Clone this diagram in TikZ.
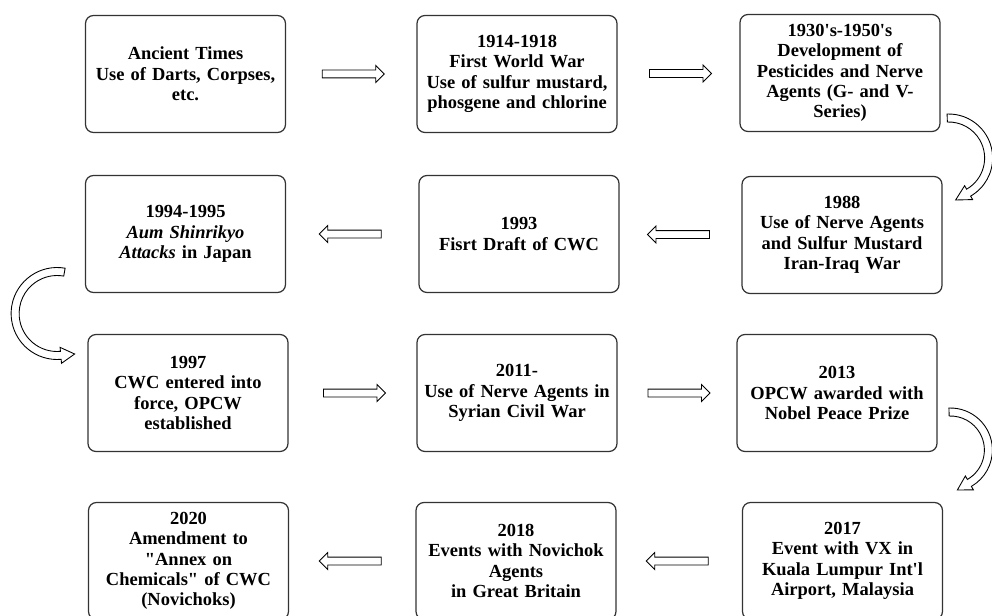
\documentclass[tikz,border=0pt]{standalone}
\usepackage{fontspec}
\setmainfont{Liberation Serif}
\usepackage{tikz}
\usetikzlibrary{shapes,arrows,calc}

\begin{document}
\begin{tikzpicture}[
    event/.style={rectangle, rounded corners=0.16cm, draw=black!80, line width=0.7pt, inner sep=0.1cm, text width=3.8cm, align=center, minimum width=4cm, minimum height=2.34cm, font=\bfseries\fontsize{10.5}{11.6}\selectfont},
    harrow/.style={single arrow, draw, fill=white, line width=0.5pt, inner xsep=0pt, inner ysep=0.07cm, single arrow head extend=0.09cm, minimum height=1.24cm},
    harrowl/.style={harrow, shape border rotate=180},
    turnarrow/.style={draw, fill=white, line width=0.5pt}
]
    \useasboundingbox (0,0) rectangle (19.84,-12.3);

    % row 1
    \node[event] (ancient) at (3.71,-1.48) {Ancient Times\\Use of Darts, Corpses,\\etc.};
    \node[event] (ww1) at (10.34,-1.48) {1914-1918\\First World War\\Use of sulfur mustard,\\phosgene and chlorine};
    \node[event] (pest) at (16.80,-1.46) {1930\textquotesingle s-1950\textquotesingle s\\Development of\\Pesticides and Nerve\\Agents (G- and V-\\Series)};
    % row 2
    \node[event] (aum) at (3.71,-4.68) {1994-1995\\\textit{Aum Shinrikyo}\\\textit{Attacks} in Japan};
    \node[event] (draft) at (10.38,-4.68) {1993\\Fisrt Draft of CWC};
    \node[event] (iraniraq) at (16.84,-4.70) {1988\\Use of Nerve Agents\\and Sulfur Mustard\\Iran-Iraq War};
    % row 3
    \node[event] (cwc) at (3.76,-7.86) {1997\\CWC entered into\\force, OPCW\\established};
    \node[event] (syria) at (10.34,-7.86) {2011-\\Use of Nerve Agents in\\Syrian Civil War};
    \node[event] (nobel) at (16.74,-7.86) {2013\\OPCW awarded with\\Nobel Peace Prize};
    % row 4
    \node[event] (annex) at (3.77,-11.22) {2020\\Amendment to\\\textquotedbl Annex on\\Chemicals\textquotedbl{} of CWC\\(Novichoks)};
    \node[event] (novichok) at (10.32,-11.22) {2018\\Events with Novichok\\Agents\\in Great Britain};
    \node[event] (kuala) at (16.85,-11.22) {2017\\Event with VX in\\Kuala Lumpur Int\textquotesingle l\\Airport, Malaysia};

    \path (ancient) -- node[harrow] (a1) {} (ww1);
    \path (ww1) -- node[harrow] (a2) {} (pest);
    \path (iraniraq) -- node[harrowl] (a3) {} (draft);
    \path (draft) -- node[harrowl] (a4) {} (aum);
    \path (cwc) -- node[harrow] (a5) {} (syria);
    \path (syria) -- node[harrow] (a6) {} (nobel);
    \path (kuala) -- node[harrowl] (a7) {} (novichok);
    \path (novichok) -- node[harrowl] (a8) {} (annex);

    % turns between rows
    \begin{scope}[shift={($(pest.east)!0.5!(iraniraq.east)+(0.14,-0.08)$)}]
        \draw[turnarrow] (92:0.88) arc[start angle=92, end angle=-60, radius=0.88] -- (-60:0.96) -- (0.14,-0.84) -- (-60:0.64) -- (-60:0.72) arc[start angle=-60, end angle=92, radius=0.72] -- cycle;
    \end{scope}
    \begin{scope}[shift={($(aum.west)!0.5!(cwc.west)+(-0.58,0)$)}]
        \draw[turnarrow] (80:0.92) arc[start angle=80, end angle=275, radius=0.92] -- (275:1.0) -- (0.35,-0.81) -- (275:0.68) -- (275:0.76) arc[start angle=275, end angle=80, radius=0.76] -- cycle;
    \end{scope}
    \begin{scope}[shift={($(nobel.east)!0.5!(kuala.east)+(0.2,0.54)$)}]
        \draw[turnarrow] (92:0.84) arc[start angle=92, end angle=-60, radius=0.84] -- (-60:0.92) -- (0.14,-0.80) -- (-60:0.60) -- (-60:0.68) arc[start angle=-60, end angle=92, radius=0.68] -- cycle;
    \end{scope}
\end{tikzpicture}
\end{document}
